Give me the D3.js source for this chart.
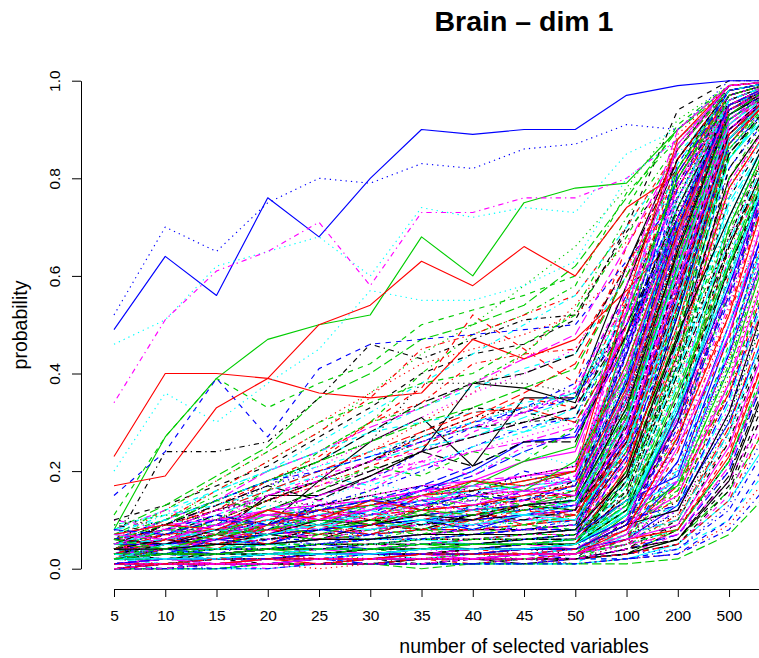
<!DOCTYPE html>
<html>
<head>
<meta charset="utf-8">
<script src="https://cdn.jsdelivr.net/npm/d3@7/dist/d3.min.js"></script>
<style>
  html, body { margin: 0; padding: 0; background: #fff; }
  svg { display: block; font-family: "Liberation Sans", Arial, Helvetica, sans-serif; }
</style>
</head>
<body>
<svg id="chart" width="759" height="658"></svg>
<script>
// Number of selected variables (x categories)
const categories = ["5","10","15","20","25","30","35","40","45","50","100","200","500","1000"];

// Probability axis ticks
const yTickValues = [0, 0.2, 0.4, 0.6, 0.8, 1.0];
const yTickLabels = ["0.0","0.2","0.4","0.6","0.8","1.0"];

// Selection probability (in percent) of each variable, first 30 variables
const leadingSeries = [
  [3,4,6,9,18,26,31,21,35,35,62,86,99,100],
  [4,8,12,18,22,30,37,52,45,38,66,84,97,100],
  [5,10,16,22,28,36,44,50,58,66,78,92,99,100],
  [3,5,8,12,15,18,24,29,33,38,56,76,95,99],
  [4,7,11,15,18,22,25,27,31,35,52,74,94,99],
  [3,5,8,11,12,14,16,17,19,20,46,76,95,99],
  [10,13,17,21,27,33,40,44,46,51,70,94,100,100],
  [3,6,9,14,19,24,30,36,44,54,67,80,96,100],
  [6,10,15,20,24,30,40,48,52,58,77,88,98,100],
  [2,4,6,8,11,13,16,19,24,28,48,72,93,99],
  [2,3,5,7,9,11,13,15,17,18,42,70,92,99],
  [3,6,9,12,15,19,22,28,32,36,58,79,97,100],
  [4,8,12,17,22,26,38,38,38,36,50,73,94,99],
  [5,10,16,22,28,35,45,48,52,56,70,86,98,100],
  [8,13,19,25,35,40,47,50,54,62,76,90,98,100],
  [49,64,56,76,68,80,90,89,90,90,97,99,100,100],
  [6,10,14,18,22,28,33,37,41,44,60,80,97,100],
  [5,9,13,17,21,26,31,36,40,45,61,82,97,100],
  [5,24,24,26,35,46,43,47,51,52,69,82,99,100],
  [4,7,10,14,18,22,27,31,36,42,60,78,95,99],
  [8,27,39,47,50,52,68,60,75,78,79,90,99,100],
  [15,24,39,27,41,46,47,48,49,50,63,76,96,100],
  [46,51,62,65,68,60,74,72,74,73,85,90,99,100],
  [34,51,61,65,71,58,73,73,76,76,80,88,98,100],
  [4,9,14,18,22,28,34,38,40,44,62,84,98,100],
  [23,40,40,39,36,35,36,47,43,47,57,68,95,99],
  [11,27,39,33,38,42,50,53,56,60,74,91,99,100],
  [52,70,65,75,80,79,83,82,86,87,91,90,100,100],
  [7,11,16,20,26,32,38,44,50,56,70,85,97,100],
  [6,10,14,20,24,29,33,38,43,48,66,86,98,100]
];

// Variables 31-60
const middleSeries = [
  [2,5,7,15,15,19,24,38,37,34,58,84,98,100],
  [3,6,9,14,17,21,25,30,35,33,56,78,96,100],
  [4,7,10,14,18,20,24,27,30,35,55,80,97,100],
  [3,5,7,10,13,16,20,25,29,31,50,72,94,99],
  [5,8,12,16,20,23,26,29,28,33,48,70,93,99],
  [4,6,9,12,13,15,17,18,22,24,50,78,96,100],
  [4,8,12,15,18,22,28,33,32,30,48,70,92,99],
  [6,12,18,24,30,36,42,45,48,52,62,78,95,99],
  [3,6,10,16,24,30,33,38,44,53,72,87,98,100],
  [3,5,7,9,12,14,17,21,26,27,48,70,93,99],
  [3,5,6,8,10,12,14,16,17,20,44,74,94,99],
  [5,8,11,15,19,22,24,27,30,33,53,76,96,100],
  [4,7,10,14,18,22,27,31,33,36,52,74,95,99],
  [4,8,13,18,23,30,34,42,44,45,62,80,97,100],
  [5,9,14,18,22,26,30,33,37,41,60,82,97,100],
  [2,4,5,7,9,12,16,20,26,27,46,72,94,99],
  [8,12,16,20,24,28,30,32,34,36,52,74,94,99],
  [4,8,12,14,17,20,22,24,27,30,48,70,93,99],
  [3,6,9,14,18,22,26,29,30,31,54,79,96,100],
  [5,9,12,16,20,24,28,32,33,30,48,68,92,99],
  [2,4,6,9,11,13,15,17,22,25,52,80,96,100],
  [6,10,14,18,20,23,26,30,32,35,50,70,93,99],
  [20,36,30,38,45,57,55,55,58,63,80,88,98,100],
  [4,8,12,15,18,22,26,29,32,37,55,76,96,100],
  [3,6,9,12,16,20,24,27,30,33,50,72,94,99],
  [17,19,33,39,50,54,63,58,66,60,74,81,97,100],
  [7,12,18,24,30,34,38,40,46,52,68,86,98,100],
  [5,9,13,17,20,23,27,30,33,35,52,74,95,99],
  [6,10,14,18,21,24,27,30,33,36,54,76,96,100],
  [3,6,9,12,15,18,21,24,26,29,46,70,93,99]
];

// Variables 61-180
const trailingSeries = [
  [1,1,2,2,3,3,4,4,5,5,12,30,62,85],
  [2,3,3,4,5,6,6,7,8,9,22,48,80,95],
  [0,1,1,1,2,2,2,3,3,3,6,15,40,70],
  [3,4,5,6,6,8,9,10,11,12,28,55,86,97],
  [1,2,2,3,4,4,5,6,6,7,18,42,75,92],
  [4,5,6,7,9,10,11,12,13,15,34,62,90,98],
  [0,0,1,1,1,1,2,2,2,2,4,10,28,55],
  [2,2,3,4,4,5,6,6,7,8,20,38,72,90],
  [5,6,8,9,10,12,13,14,15,17,38,68,92,99],
  [1,1,1,2,2,3,3,3,4,4,10,26,58,84],
  [3,3,4,5,6,7,8,9,10,10,25,52,84,96],
  [1,2,3,3,4,5,5,6,7,7,16,36,70,91],
  [2,4,5,6,8,9,10,12,12,13,30,58,88,98],
  [0,1,1,2,2,3,3,4,4,5,11,24,52,80],
  [6,8,9,11,12,14,15,16,18,20,40,70,93,99],
  [1,1,2,2,3,3,3,4,4,4,8,18,44,74],
  [3,5,6,7,8,10,11,11,12,14,32,60,88,98],
  [2,2,3,3,4,4,5,5,6,6,14,34,68,90],
  [4,5,7,8,9,10,12,13,14,16,36,64,91,99],
  [1,1,2,3,3,4,4,5,5,6,15,32,66,88],
  [0,0,0,1,1,1,1,1,2,2,3,8,22,48],
  [2,3,4,5,6,7,8,8,9,10,24,50,82,96],
  [5,7,8,10,11,13,14,16,17,18,42,72,94,99],
  [1,2,2,3,3,4,5,5,6,6,13,30,64,88],
  [3,4,5,6,7,8,9,10,11,11,26,54,85,97],
  [2,3,3,4,5,5,6,7,7,8,19,44,78,94],
  [0,1,1,1,2,2,2,3,3,3,7,16,38,66],
  [4,6,7,8,10,11,12,13,14,15,35,63,90,98],
  [1,2,2,3,4,4,5,5,6,7,17,40,74,92],
  [2,3,4,4,5,6,7,7,8,9,21,46,79,95],
  [3,4,4,5,6,6,7,8,8,9,23,47,80,95],
  [1,1,2,2,2,3,3,4,4,5,12,28,60,85],
  [5,6,7,9,10,11,13,14,16,17,40,66,92,99],
  [0,1,1,1,1,2,2,2,3,3,5,12,32,60],
  [2,3,4,5,6,7,8,9,10,10,26,53,84,97],
  [7,9,10,12,13,14,16,17,19,21,44,74,95,100],
  [1,2,3,3,4,5,5,6,6,7,18,41,76,93],
  [3,4,5,6,8,9,10,10,11,12,29,57,87,97],
  [2,2,2,3,3,4,4,5,5,5,12,27,57,83],
  [4,5,6,7,8,9,10,11,12,13,31,59,88,98],
  [1,1,2,2,3,3,4,4,5,5,13,31,63,87],
  [6,7,9,10,12,13,14,15,17,18,39,67,92,99],
  [0,0,1,1,1,2,2,2,2,3,6,14,36,64],
  [2,3,4,4,5,6,6,7,8,8,20,45,78,94],
  [3,4,6,7,8,9,11,12,13,14,33,61,89,98],
  [1,1,1,2,2,2,3,3,3,4,9,22,50,78],
  [5,6,8,9,11,12,13,15,16,16,37,65,91,99],
  [2,2,3,4,4,5,6,6,7,8,19,43,77,94],
  [1,2,2,3,3,4,4,5,5,6,14,33,67,89],
  [4,6,7,8,9,11,12,13,15,15,36,64,90,98],
  [3,4,6,7,8,10,11,12,13,15,48,82,98,100],
  [2,3,4,5,6,7,8,9,10,12,44,78,97,100],
  [1,2,3,3,4,5,6,6,7,8,40,75,96,100],
  [4,5,7,8,10,11,13,14,15,17,52,86,99,100],
  [2,2,3,4,5,5,6,7,8,9,36,72,95,99],
  [5,7,8,10,12,13,15,16,18,20,55,88,99,100],
  [1,2,2,3,3,4,5,5,6,7,33,68,94,99],
  [3,4,5,6,7,9,10,11,12,13,46,80,98,100],
  [2,3,3,4,5,6,7,7,8,9,38,76,96,100],
  [6,8,10,11,13,14,16,18,19,21,58,90,99,100],
  [1,1,2,3,3,4,4,5,5,6,30,66,93,99],
  [4,5,6,8,9,10,12,13,14,15,50,84,98,100],
  [2,3,4,5,5,6,7,8,9,10,41,77,97,100],
  [3,4,5,6,8,9,10,11,13,14,47,83,98,100],
  [1,2,3,3,4,5,5,6,7,7,35,70,95,99],
  [5,6,8,9,11,12,14,15,16,18,53,87,99,100],
  [2,2,3,4,4,5,6,6,7,8,32,69,94,100],
  [4,6,7,9,10,12,13,15,16,17,56,89,99,100],
  [1,2,2,3,4,4,5,6,6,7,37,74,96,100],
  [3,4,5,7,8,9,11,12,13,14,45,81,98,100],
  [0,0,0,0,1,1,1,1,1,1,2,5,14,30],
  [1,1,1,1,1,2,2,2,2,2,3,7,18,38],
  [0,0,1,1,1,1,1,2,2,2,4,9,20,42],
  [1,1,1,2,2,2,2,3,3,3,5,11,26,50],
  [0,1,1,1,1,1,2,2,2,2,3,6,16,34],
  [2,2,2,2,3,3,3,3,4,4,6,13,30,56],
  [0,0,0,1,1,1,1,1,1,2,2,4,10,24],
  [1,1,2,2,2,2,3,3,3,3,6,12,28,52],
  [0,0,1,1,1,1,1,1,2,2,3,8,22,46],
  [1,2,2,2,3,3,3,4,4,4,8,17,36,62],
  [4,8,7,12,10,14,12,18,16,22,40,70,95,100],
  [6,5,9,8,13,11,17,15,20,18,44,72,94,99],
  [3,7,11,9,14,18,15,20,24,21,46,76,96,100],
  [8,12,10,15,18,16,22,19,25,27,50,79,97,100],
  [5,9,13,17,14,19,24,21,26,26,48,74,95,100],
  [2,6,4,9,12,10,15,18,17,20,42,71,94,99],
  [7,10,14,12,16,21,19,24,22,29,52,80,97,100],
  [4,3,7,10,9,13,16,14,19,17,38,66,92,99],
  [9,11,13,16,19,17,21,25,28,31,55,83,98,100],
  [3,5,8,7,11,9,13,17,15,19,41,70,94,99],
  [1,1,2,2,3,3,3,4,4,5,20,52,88,99],
  [2,3,3,4,4,5,6,6,7,7,26,60,91,99],
  [0,1,1,1,2,2,2,2,3,3,14,40,78,96],
  [3,3,4,5,5,6,7,7,8,9,29,63,92,100],
  [1,2,2,2,3,3,4,4,4,5,17,46,84,98],
  [2,2,3,3,4,4,5,5,6,6,23,56,89,99],
  [0,0,1,1,1,1,2,2,2,2,10,30,66,90],
  [4,4,5,6,7,7,8,9,10,11,34,66,93,100],
  [1,1,2,2,2,3,3,3,4,4,15,42,80,97],
  [2,3,4,4,5,6,6,7,8,8,27,58,90,99],
  [1,1,1,2,2,2,3,3,3,3,12,34,72,94],
  [3,4,4,5,6,6,7,8,8,9,30,64,92,100],
  [0,1,1,1,1,2,2,2,2,3,9,26,60,88],
  [2,2,3,3,4,4,5,6,6,7,24,54,87,99],
  [1,2,2,3,3,4,4,5,5,5,19,49,86,98],
  [5,5,6,7,8,9,10,10,11,12,39,72,95,100],
  [0,0,0,1,1,1,1,1,1,1,7,20,50,82],
  [2,3,3,4,5,5,6,6,7,8,28,62,91,100],
  [1,1,2,2,3,3,3,4,4,4,16,44,82,97],
  [3,4,5,5,6,7,8,8,9,10,31,65,93,100],
  [1,1,1,1,2,2,2,2,3,3,11,32,70,93],
  [2,2,3,3,4,5,5,6,6,7,22,53,88,99],
  [0,1,1,1,1,1,2,2,2,2,8,24,56,86],
  [4,5,5,6,7,8,9,9,10,11,36,70,94,100],
  [1,2,2,3,3,3,4,4,5,5,18,47,85,98],
  [2,2,2,3,3,4,4,4,5,5,21,50,87,99],
  [0,0,1,1,1,1,1,2,2,2,6,18,46,78],
  [3,3,4,4,5,6,6,7,7,8,25,57,90,99],
  [1,1,2,2,2,3,3,3,4,4,13,38,76,95],
  [2,3,3,4,4,5,5,6,7,7,27,61,91,100]
];

// Variables 181-220: rarely selected even in large subsets
const lateSeries = [
  [0,1,1,1,1,1,2,2,1,2,3,6,18,45],
  [1,0,1,2,1,2,2,1,2,2,4,8,24,52],
  [2,1,2,2,3,2,3,3,2,3,6,10,30,62],
  [0,1,0,1,2,1,1,2,2,1,2,4,12,30],
  [1,2,1,2,2,3,2,3,3,4,8,13,34,66],
  [3,2,3,3,4,3,4,4,5,4,9,15,38,70],
  [1,1,2,1,2,2,3,2,3,3,5,9,26,55],
  [0,0,1,1,0,1,1,1,2,1,2,3,9,22],
  [2,3,2,3,3,4,3,4,4,5,10,16,42,74],
  [1,1,1,2,2,1,2,2,3,2,4,7,20,48],
  [4,3,4,5,4,5,6,5,6,6,12,18,45,78],
  [0,1,1,0,1,1,1,2,1,2,3,5,15,38],
  [2,2,1,2,3,3,2,3,4,3,7,11,31,63],
  [1,2,2,3,2,3,3,4,3,4,9,14,36,68],
  [0,0,0,1,1,1,0,1,1,1,1,2,7,18],
  [3,4,3,4,5,4,5,5,6,7,14,19,48,80],
  [1,0,1,1,2,2,2,2,2,3,5,8,22,50],
  [2,1,2,3,2,3,4,3,4,4,8,12,33,65],
  [0,1,1,1,1,2,1,2,2,2,3,5,16,40],
  [1,2,2,2,3,3,3,3,4,4,7,10,29,60],
  [2,3,3,4,3,4,5,4,5,5,11,17,41,73],
  [0,0,1,1,1,1,1,1,1,2,2,3,10,26],
  [1,1,2,2,2,3,3,3,3,3,6,9,27,57],
  [3,2,3,4,4,5,4,5,5,6,13,18,44,76],
  [1,1,1,1,2,2,2,2,2,2,4,6,19,46],
  [0,1,1,2,1,2,2,2,3,3,6,8,23,52],
  [2,2,3,3,3,3,4,4,4,5,10,14,37,69],
  [1,0,0,1,1,1,1,1,2,2,3,4,13,34],
  [4,4,5,5,6,6,6,7,7,8,15,20,50,82],
  [0,1,1,1,2,2,2,2,2,3,5,7,21,49],
  [2,2,2,3,3,3,3,4,4,4,9,12,32,64],
  [1,1,1,1,1,1,2,2,2,2,3,5,14,36],
  [3,3,4,4,4,5,5,5,6,6,12,17,43,75],
  [0,0,0,0,1,1,1,1,1,1,2,3,8,20],
  [2,1,2,2,2,3,3,3,3,4,7,10,28,58],
  [1,2,1,2,2,2,3,2,3,3,6,9,25,54],
  [0,1,1,1,1,1,1,2,2,2,4,6,17,42],
  [3,2,3,3,4,4,4,5,5,5,11,15,39,71],
  [1,1,2,2,2,2,2,3,3,3,5,8,22,50],
  [2,3,2,3,3,4,4,4,5,5,10,13,35,67]
];

// Variables 221-255: noisy at small subset sizes
const noisySeries = [
  [5,8,6,10,8,12,9,13,11,14,30,62,92,99],
  [3,6,9,7,11,8,12,10,14,12,28,58,90,99],
  [8,6,10,8,12,10,9,13,12,15,34,66,94,100],
  [2,5,4,8,6,9,11,9,12,10,24,54,88,98],
  [6,9,7,11,9,13,11,15,13,16,36,68,95,100],
  [4,3,6,5,8,7,10,8,11,13,27,57,89,99],
  [7,5,8,11,9,12,14,12,15,14,33,64,93,100],
  [3,7,5,9,12,10,13,11,10,14,29,60,91,99],
  [9,7,11,9,13,15,12,16,14,18,38,70,96,100],
  [2,4,7,5,9,7,10,12,9,11,25,55,88,99],
  [5,4,7,9,7,10,8,11,13,12,31,62,92,99],
  [6,8,11,9,13,11,14,12,16,15,35,67,94,100],
  [3,5,4,6,8,6,9,8,10,9,22,50,86,98],
  [10,8,12,11,14,12,16,15,17,19,40,72,96,100],
  [4,6,5,7,6,9,8,11,10,12,26,56,89,99],
  [7,9,8,12,10,14,12,13,15,17,37,69,95,100],
  [2,3,5,4,7,6,8,7,9,8,20,48,84,98],
  [5,7,9,7,11,9,12,14,12,13,32,63,92,99],
  [8,10,9,13,11,15,13,17,16,18,39,71,96,100],
  [3,4,6,8,6,8,10,9,11,12,28,59,90,99],
  [6,5,8,7,10,9,11,10,13,14,33,65,93,100],
  [4,7,6,9,11,9,12,11,13,11,27,57,89,99],
  [9,11,10,14,12,16,14,18,17,20,42,74,97,100],
  [2,4,3,6,5,7,6,9,8,10,23,52,87,98],
  [5,6,8,7,9,11,10,12,11,13,30,61,91,99],
  [7,6,9,11,10,12,15,13,16,15,36,68,95,100],
  [3,5,7,6,8,10,9,11,13,12,29,60,90,99],
  [6,8,7,10,12,11,13,12,14,16,35,66,94,100],
  [4,3,5,7,6,8,7,10,9,11,24,53,87,98],
  [8,7,10,9,12,14,13,15,14,17,38,70,95,100],
  [2,5,4,7,9,8,10,9,11,10,25,55,88,99],
  [5,8,7,9,8,11,13,12,14,13,31,63,92,99],
  [10,9,12,14,13,15,17,16,19,21,44,76,97,100],
  [3,6,5,8,7,9,8,10,12,11,26,57,89,99],
  [6,4,7,8,10,9,12,11,12,14,32,64,93,100]
];

// Variables 256-285
const finalSeries = [
  [1,2,2,3,3,3,4,4,4,5,10,32,58,88],
  [2,3,2,3,4,4,4,5,5,6,13,38,64,90],
  [0,1,1,2,2,2,2,3,3,3,7,26,50,85],
  [3,2,3,4,4,5,5,5,6,6,15,42,68,92],
  [1,1,2,2,3,3,3,3,4,4,9,30,56,87],
  [2,2,3,3,3,4,4,5,5,5,12,36,62,89],
  [0,1,1,1,2,2,2,2,3,3,6,22,44,82],
  [4,3,4,5,5,6,6,6,7,8,18,46,71,93],
  [1,2,1,2,2,3,3,3,3,4,8,28,54,87],
  [2,3,3,4,4,4,5,5,6,6,14,40,66,90],
  [1,1,1,2,2,2,3,3,3,3,8,27,52,86],
  [3,3,4,4,5,5,5,6,6,7,16,44,69,92],
  [0,0,1,1,1,2,2,2,2,2,5,20,41,80],
  [2,2,2,3,3,3,4,4,4,5,11,34,60,89],
  [1,2,2,2,3,3,3,4,4,4,10,31,57,88],
  [4,4,5,5,6,6,7,7,7,8,19,48,72,94],
  [0,1,1,1,1,2,2,2,2,3,6,24,47,84],
  [2,3,3,3,4,4,4,5,5,6,13,39,65,90],
  [1,1,2,2,2,3,3,3,4,4,9,29,55,87],
  [3,2,3,3,4,4,5,5,5,6,14,41,67,91],
  [1,1,1,1,2,2,2,2,3,3,7,25,48,84],
  [2,2,3,3,3,4,4,4,5,5,12,35,61,89],
  [0,1,1,1,1,1,2,2,2,2,5,21,43,81],
  [3,4,4,5,5,5,6,6,7,7,17,45,70,93],
  [1,2,2,2,3,3,3,3,4,4,9,30,56,88],
  [2,2,2,3,3,3,4,4,4,5,11,33,59,89],
  [0,0,1,1,1,1,1,2,2,2,4,18,38,78],
  [4,3,4,4,5,5,6,6,6,7,16,43,68,92],
  [1,1,2,2,2,2,3,3,3,4,8,27,53,86],
  [2,3,3,4,4,4,5,5,5,6,13,37,63,90]
];

// Line colours and line types cycle like R's matplot (col = 1:6, lty = 1:5)
const palette = ["#000000", "#FF0000", "#00CD00", "#0000FF", "#00FFFF", "#FF00FF"];
const dashes = [null, "5.3,5.3", "1.3,4", "1.3,4,5.3,4", "9.3,4"];

const series = leadingSeries
  .concat(middleSeries, trailingSeries, lateSeries, noisySeries, finalSeries)
  .map(row => row.map(v => v / 100));

const W = 759, H = 658;
const svg = d3.select("#chart");

// Plot region (R default extends the data range by 4% on each side)
const x = d3.scalePoint()
  .domain(categories)
  .range([114, 780.3]);
const y = d3.scaleLinear()
  .domain([0, 1])
  .range([568.7, 80.7]);

svg.append("defs").append("clipPath").attr("id", "plotclip")
  .append("rect").attr("x", 81).attr("y", 61).attr("width", 886).attr("height", 528);

const line = d3.line()
  .x((d, i) => x(categories[i]))
  .y(d => y(d));

svg.append("g")
  .attr("clip-path", "url(#plotclip)")
  .selectAll("path")
  .data(series)
  .join("path")
  .attr("d", line)
  .attr("fill", "none")
  .attr("stroke", (d, i) => palette[i % 6])
  .attr("stroke-dasharray", (d, i) => dashes[i % 5])
  .attr("stroke-width", 1.15)
  .attr("stroke-linejoin", "round");

// x axis
const xAxis = svg.append("g")
  .attr("transform", "translate(0,589)")
  .call(d3.axisBottom(x).tickSize(8).tickSizeOuter(0).tickPadding(13));
xAxis.selectAll("text")
  .attr("fill", "#000")
  .style("font-size", "15.5px");
// labels that fall past the device edge are not drawn
xAxis.selectAll(".tick")
  .filter(d => x(d) + 12 > W)
  .select("text").remove();
xAxis.selectAll("line, path").attr("stroke", "#000").attr("stroke-width", 1);

// y axis with rotated labels
const yAxis = svg.append("g")
  .attr("transform", "translate(81,0)")
  .call(d3.axisLeft(y)
    .tickValues(yTickValues)
    .tickFormat((d, i) => yTickLabels[i])
    .tickSize(9)
    .tickSizeOuter(0));
yAxis.selectAll("text")
  .attr("x", null)
  .attr("dy", null)
  .attr("text-anchor", "middle")
  .attr("transform", "translate(-21,0) rotate(-90)")
  .attr("fill", "#000")
  .style("font-size", "15.5px");
yAxis.selectAll("line, path").attr("stroke", "#000").attr("stroke-width", 1);

// Titles
svg.append("text")
  .attr("x", 524).attr("y", 31)
  .attr("text-anchor", "middle")
  .style("font-size", "28.5px")
  .style("font-weight", "bold")
  .text("Brain \u2013 dim 1");

svg.append("text")
  .attr("x", 524).attr("y", 653)
  .attr("text-anchor", "middle")
  .style("font-size", "19.5px")
  .text("number of selected variables");

svg.append("text")
  .attr("transform", "translate(27,325) rotate(-90)")
  .attr("text-anchor", "middle")
  .style("font-size", "19.5px")
  .text("probability");
</script>
</body>
</html>
